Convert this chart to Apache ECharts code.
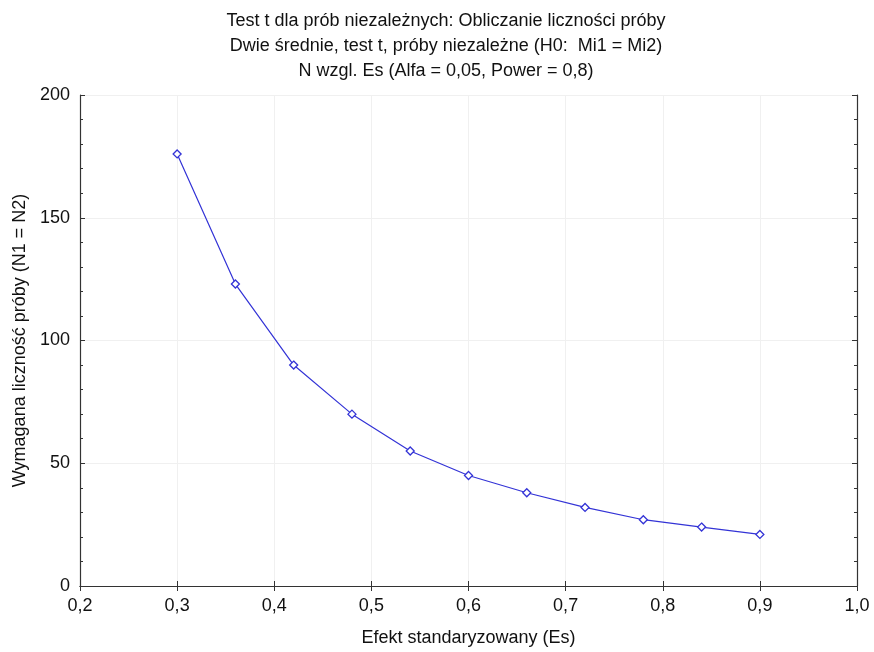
<!DOCTYPE html>
<html><head><meta charset="utf-8">
<script src="https://cdn.jsdelivr.net/npm/echarts@6/dist/echarts.min.js"></script>
<style>html,body{margin:0;padding:0;background:#fff}#c{width:874px;height:652px}</style>
</head><body><div id="c"></div>
<script>
const effectSizes = [0.30, 0.36, 0.42, 0.48, 0.54, 0.60, 0.66, 0.72, 0.78, 0.84, 0.90];
const sampleSizes = [176, 123, 90, 70, 55, 45, 38, 32, 27, 24, 21];
const titleLines = [
  'Test t dla prób niezależnych: Obliczanie liczności próby',
  'Dwie średnie, test t, próby niezależne (H0:  Mi1 = Mi2)',
  'N wzgl. Es (Alfa = 0,05, Power = 0,8)'
];
const xName = 'Efekt standaryzowany (Es)';
const yName = 'Wymagana liczność próby (N1 = N2)';

const font = 'Liberation Sans, Arial, sans-serif';
const axisLine = {show: true, lineStyle: {color: '#333', width: 1.2}};
const chart = echarts.init(document.getElementById('c'), null, {renderer: 'canvas'});
chart.setOption({
  animation: false,
  backgroundColor: '#fff',
  title: {
    text: titleLines.join('\n'),
    left: 446, textAlign: 'center', top: 9, padding: 0,
    textStyle: {fontFamily: font, fontSize: 18, fontWeight: 'normal', color: '#111', lineHeight: 25}
  },
  grid: {left: 80, right: 17, top: 95, bottom: 61},
  xAxis: [{
    type: 'value', min: 0.2, max: 1.0, interval: 0.1,
    name: xName, nameLocation: 'middle', nameGap: 43,
    nameTextStyle: {fontFamily: font, fontSize: 18, color: '#111'},
    axisLine: axisLine,
    axisTick: {show: true, inside: true, length: 5, lineStyle: {color: '#333'}},
    axisLabel: {fontFamily: font, fontSize: 18, color: '#111', margin: 11,
      formatter: v => v.toFixed(1).replace('.', ',')},
    splitLine: {show: true, lineStyle: {color: '#f0f0f0', width: 1}}
  }, {
    type: 'value', position: 'top', min: 0.2, max: 1.0, interval: 0.1,
    axisLine: axisLine,
    axisTick: {show: true, inside: true, length: 5, lineStyle: {color: '#333'}},
    axisLabel: {show: false}, splitLine: {show: false}
  }],
  yAxis: [{
    type: 'value', min: 0, max: 200, interval: 50,
    name: yName, nameLocation: 'middle', nameGap: 51,
    nameTextStyle: {fontFamily: font, fontSize: 18, color: '#111'},
    axisLine: axisLine,
    axisTick: {show: true, inside: true, length: 5, lineStyle: {color: '#333'}},
    minorTick: {show: true, splitNumber: 5, length: 3, lineStyle: {color: '#333'}},
    axisLabel: {fontFamily: font, fontSize: 18, color: '#111', margin: 10},
    splitLine: {show: true, lineStyle: {color: '#f0f0f0', width: 1}}
  }, {
    type: 'value', position: 'right', min: 0, max: 200, interval: 50,
    axisLine: axisLine,
    axisTick: {show: true, inside: true, length: 5, lineStyle: {color: '#333'}},
    minorTick: {show: true, splitNumber: 5, length: 3, lineStyle: {color: '#333'}},
    axisLabel: {show: false}, splitLine: {show: false}
  }],
  series: [{
    type: 'line',
    data: effectSizes.map((x, i) => [x, sampleSizes[i]]),
    symbol: 'diamond', symbolSize: 8,
    itemStyle: {color: '#fff', borderColor: '#3333d6', borderWidth: 1.3},
    lineStyle: {color: '#3333d6', width: 1.2}
  }]
});
</script></body></html>
